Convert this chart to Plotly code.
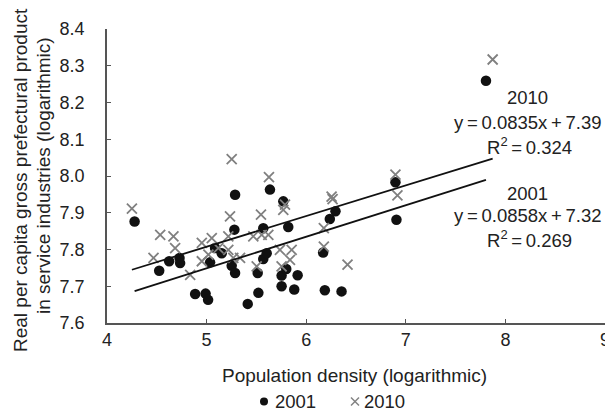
import plotly.graph_objects as go

# ---- data ----
x2001 = [4.277, 4.524, 4.624, 4.728, 4.734, 4.885, 4.99, 5.015, 5.035, 5.085,
         5.152, 5.252, 5.279, 5.286, 5.286, 5.413, 5.513, 5.52, 5.569, 5.569,
         5.603, 5.636, 5.753, 5.753, 5.77, 5.80, 5.82, 5.88, 5.914, 6.17,
         6.187, 6.237, 6.294, 6.355, 6.896, 6.906, 7.805]
y2001 = [7.876, 7.742, 7.768, 7.777, 7.763, 7.679, 7.680, 7.663, 7.765, 7.804,
         7.790, 7.756, 7.854, 7.949, 7.736, 7.652, 7.736, 7.682, 7.858, 7.774,
         7.790, 7.963, 7.729, 7.700, 7.931, 7.747, 7.861, 7.691, 7.730, 7.792,
         7.689, 7.883, 7.904, 7.686, 7.983, 7.881, 8.259]

x2010 = [4.25, 4.467, 4.534, 4.667, 4.684, 4.835, 4.952, 4.952, 5.018, 5.052,
         5.118, 5.218, 5.218, 5.235, 5.252, 5.268, 5.336, 5.469, 5.503, 5.546,
         5.553, 5.62, 5.626, 5.736, 5.753, 5.77, 5.787, 5.837, 5.854, 6.177,
         6.177, 6.255, 6.265, 6.415, 6.896, 6.916, 7.872]
y2010 = [7.911, 7.777, 7.840, 7.836, 7.804, 7.731, 7.818, 7.768, 7.786, 7.831,
         7.804, 7.836, 7.799, 7.890, 8.046, 7.777, 7.777, 7.836, 7.754, 7.895,
         7.840, 7.840, 7.997, 7.799, 7.754, 7.908, 7.922, 7.772, 7.799, 7.858,
         7.808, 7.944, 7.937, 7.759, 8.004, 7.947, 8.317]

fit2001 = {"slope": 0.0858, "intercept": 7.32, "r2": "0.269"}
fit2010 = {"slope": 0.0835, "intercept": 7.39, "r2": "0.324"}

x_ticks = [4, 5, 6, 7, 8, 9]
y_ticks = [7.6, 7.7, 7.8, 7.9, 8.0, 8.1, 8.2, 8.3, 8.4]

# ---- layout geometry ----
W, H = 605, 412
L, R, T, B = 107, 0, 29, 89
PW, PH = W - L - R, H - T - B

def px(xp):
    return (xp - L) / PW

def py(yp):
    return (H - B - yp) / PH

FONT = "Liberation Sans, Arial, sans-serif"
TXT = "#222222"

fig = go.Figure()

fig.add_trace(go.Scatter(x=x2001, y=y2001, mode="markers", name="2001",
                         marker=dict(symbol="circle", size=10.5, color="#111111"),
                         showlegend=False))
fig.add_trace(go.Scatter(x=x2010, y=y2010, mode="markers", name="2010",
                         marker=dict(symbol="x-thin", size=10,
                                     line=dict(color="#808080", width=1.8)),
                         showlegend=False))

for xs, fit in ((x2010, fit2010), (x2001, fit2001)):
    xl = [min(xs), max(xs)]
    yl = [fit["intercept"] + fit["slope"] * v for v in xl]
    fig.add_trace(go.Scatter(x=xl, y=yl, mode="lines",
                             line=dict(color="#111111", width=1.8),
                             showlegend=False, hoverinfo="skip"))

annots = []

def txt(xp, yp, s, size=18.5, xanchor="center", angle=0):
    annots.append(dict(x=px(xp), y=py(yp), xref="paper", yref="paper",
                       text=s, showarrow=False, xanchor=xanchor,
                       yanchor="middle", textangle=angle,
                       font=dict(family=FONT, size=size, color=TXT)))

ts = "\u2009"
def eq(fit):
    return f"y{ts}={ts}{fit['slope']}x{ts}+{ts}{fit['intercept']:.2f}"

txt(527, 97, "2010")
txt(528, 122, eq(fit2010))
txt(529, 146, f"R<sup>2</sup>{ts}={ts}{fit2010['r2']}")
txt(527, 193, "2001")
txt(528, 216, eq(fit2001))
txt(529, 239, f"R<sup>2</sup>{ts}={ts}{fit2001['r2']}")

# axis titles
txt(354, 375, "Population density (logarithmic)", size=19)
txt(20, 180, "Real per capita gross prefectural product", size=19, angle=-90)
txt(43, 176, "in service industries (logarithmic)", size=19, angle=-90)

# legend
txt(273, 401, "2001", size=18.5, xanchor="left")
txt(362, 401, "2010", size=18.5, xanchor="left")

shapes = [
    dict(type="circle", xref="paper", yref="paper",
         x0=px(260), x1=px(268), y0=py(405.5), y1=py(397.5),
         fillcolor="#111111", line=dict(color="#111111", width=0)),
    dict(type="line", xref="paper", yref="paper",
         x0=px(351), x1=px(359), y0=py(397.5), y1=py(405.5),
         line=dict(color="#808080", width=1.4)),
    dict(type="line", xref="paper", yref="paper",
         x0=px(351), x1=px(359), y0=py(405.5), y1=py(397.5),
         line=dict(color="#808080", width=1.4)),
]

axis_common = dict(showgrid=False, zeroline=False, showline=True,
                   linecolor="#555555", linewidth=1.5, ticks="inside",
                   ticklen=4, tickcolor="#555555", tickwidth=1.2,
                   ticklabeloverflow="allow", automargin=False,
                   tickfont=dict(family=FONT, size=18, color=TXT))

fig.update_layout(
    width=W, height=H, margin=dict(l=L, r=R, t=T, b=B, autoexpand=False),
    paper_bgcolor="white", plot_bgcolor="white",
    xaxis=dict(range=[4, 9], tickvals=x_ticks, ticktext=[str(v) for v in x_ticks],
               ticklabelstandoff=0, **axis_common),
    yaxis=dict(range=[7.6, 8.4], tickvals=y_ticks,
               ticktext=[f"{v:.1f}" for v in y_ticks],
               ticklabelstandoff=17, **axis_common),
    annotations=annots, shapes=shapes, showlegend=False,
)

fig.write_html("out.html", config={"displayModeBar": False},
               post_script="document.body.style.margin='0';document.body.style.overflow='hidden';")
